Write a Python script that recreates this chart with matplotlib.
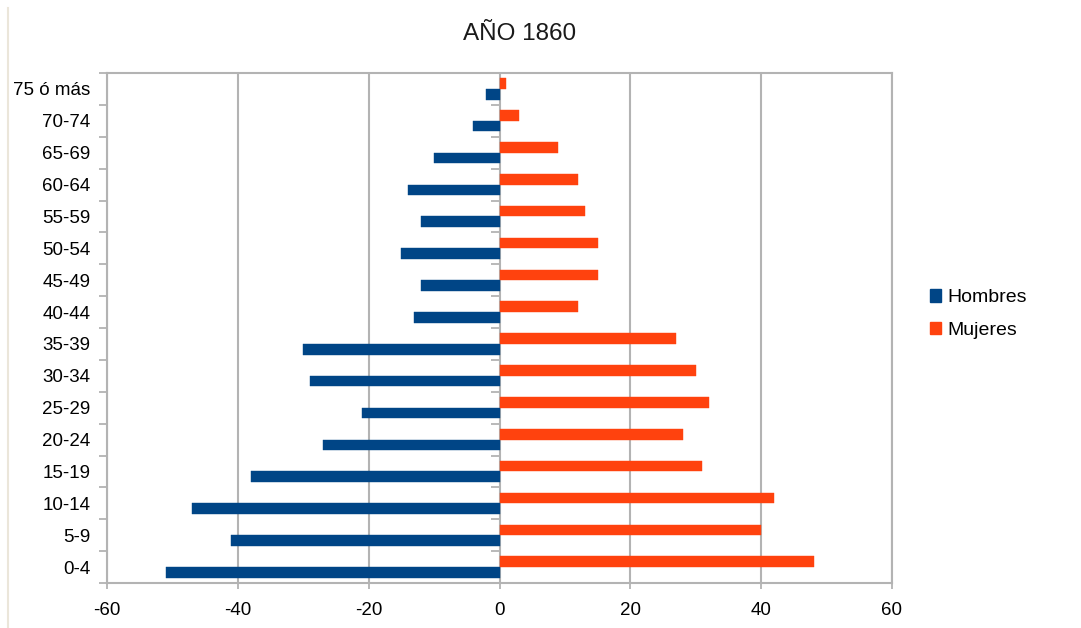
import matplotlib
matplotlib.use("Agg")
import matplotlib.pyplot as plt
from matplotlib.patches import Patch
from matplotlib.lines import Line2D
import numpy as np

plt.rcParams['font.family'] = ['Liberation Sans', 'DejaVu Sans']

title = "AÑO 1860"
categories = ["0-4", "5-9", "10-14", "15-19", "20-24", "25-29", "30-34", "35-39",
              "40-44", "45-49", "50-54", "55-59", "60-64", "65-69", "70-74", "75 ó más"]
hombres = [-51, -41, -47, -38, -27, -21, -29, -30, -13, -12, -15, -12, -14, -10, -4, -2]
mujeres = [48, 40, 42, 31, 28, 32, 30, 27, 12, 15, 15, 13, 12, 9, 3, 1]
xticks = [-60, -40, -20, 0, 20, 40, 60]
series_names = ["Hombres", "Mujeres"]

blue = "#004586"
orange = "#ff420e"
grid = "#b3b3b3"

fig = plt.figure(figsize=(10.81, 6.28), dpi=100)
ax = fig.add_axes([107/1081, 1-583/628, (892-107)/1081, (583-73)/628])

y = np.arange(len(categories))
h = 0.335
ax.barh(y - h/2, hombres, height=h, color=blue, edgecolor=blue, linewidth=0.3, zorder=3)
ax.barh(y + h/2, mujeres, height=h, color=orange, edgecolor=orange, linewidth=0.3, zorder=3)

ax.set_xlim(-60, 60)
ax.set_ylim(-0.5, len(categories) - 0.5)
ax.set_xticks(xticks)
ax.set_xticklabels([str(v) for v in xticks], fontsize=13.5)
ax.set_yticks(y)
ax.set_yticklabels(categories, fontsize=13.5)

# grid
for v in xticks:
    ax.axvline(v, color=grid, lw=1.5, zorder=1)

# boundary ticks
bounds = np.arange(len(categories) + 1) - 0.5
ax.set_yticks(bounds, minor=True)
ax.tick_params(axis='y', which='major', length=0, pad=12)
ax.tick_params(axis='y', which='minor', length=6, width=1.3, color=grid, direction='out')
ax.tick_params(axis='x', which='major', length=4, width=1.3, color=grid, pad=10)
# ticks at the zero axis
ax.hlines(bounds[1:-1], -1.25, 0, colors=grid, lw=1.3, zorder=2)

for s in ax.spines.values():
    s.set_color(grid)
    s.set_linewidth(1.5)

fig.text(520/1081, 1-34/628, title, fontsize=17.5, ha='center', va='center', color='#1a1a1a')

# left border
fig.add_artist(Line2D([8/1081, 8/1081], [0, 1-8/628], transform=fig.transFigure,
                      color='#ebe6da', lw=1.5))

handles = [Patch(facecolor=blue, edgecolor=blue), Patch(facecolor=orange, edgecolor=orange)]
fig.legend(handles, series_names, loc='center left', bbox_to_anchor=(912/1081, 1-314/628),
           frameon=False, fontsize=14, handlelength=0.6, handleheight=0.6,
           handletextpad=0.3, labelspacing=0.8)

fig.savefig("out.png", dpi=100)
